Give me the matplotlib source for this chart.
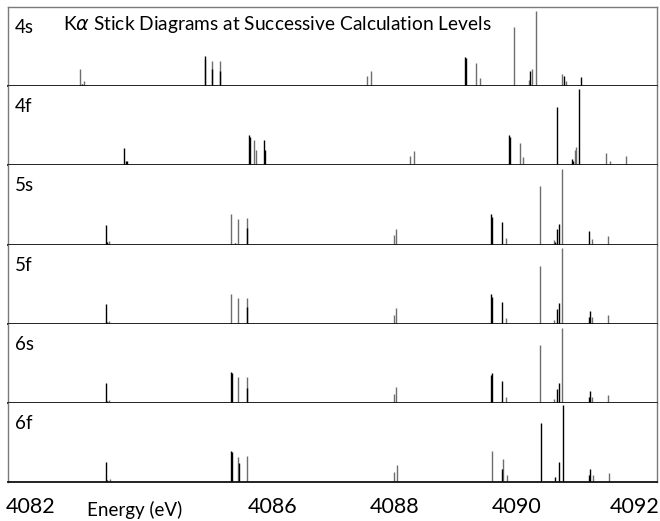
import matplotlib
matplotlib.use("Agg")
import matplotlib.pyplot as plt
from matplotlib.transforms import ScaledTranslation

plt.rcParams['font.family'] = ['Lato', 'DejaVu Sans']

# ---- data (energies in eV, intensities in arbitrary units) ----
levels = ["4s", "4f", "5s", "5f", "6s", "6f"]

E_4s = [4082.842, 4082.870, 4082.913, 4084.888, 4084.901, 4084.954, 4085.008, 4085.016, 4085.134, 4085.144,
        4087.556, 4087.611, 4089.164, 4089.175, 4089.334, 4089.400, 4089.968, 4090.204, 4090.230, 4090.250,
        4090.327, 4090.758, 4090.775, 4090.816, 4091.070]
I_4s = [17, 2, 5, 30, 27, 1, 25, 17, 25, 15, 10, 15, 29, 28, 23, 8, 59, 6, 15, 17, 75, 12, 10, 5, 9]
K_4s = ['g', 'k', 'g', 'k', 'g', 'k', 'g', 'k', 'g', 'k', 'g', 'g', 'k', 'k', 'g', 'g', 'g', 'g', 'k', 'g',
        'g', 'g', 'k', 'g', 'k']

E_4f = [4083.559, 4083.602, 4083.618, 4085.615, 4085.626, 4085.669, 4085.697, 4085.730, 4085.861, 4085.877,
        4088.256, 4088.322, 4089.881, 4089.892, 4090.061, 4090.105, 4090.676, 4090.909, 4090.931, 4090.959,
        4090.980, 4091.037, 4091.477, 4091.543, 4091.795]
I_4f = [17.7, 4.7, 4, 30, 28, 1, 25, 15, 25, 15, 9, 14.3, 30, 28, 22.3, 8, 58, 6, 4, 15, 18.3, 75.7, 12.3, 4.7, 9]
K_4f = ['k', 'k', 'k', 'k', 'k', 'k', 'g', 'g', 'k', 'k', 'g', 'g', 'k', 'k', 'g', 'g', 'k', 'k', 'k', 'g',
        'g', 'k', 'g', 'g', 'g']

E_5s = [4083.273, 4083.290, 4083.310, 4085.324, 4085.390, 4085.439, 4085.577, 4085.587, 4087.994, 4088.022,
        4089.590, 4089.607, 4089.771, 4089.826, 4090.386, 4090.624, 4090.643, 4090.673, 4090.693, 4090.755,
        4091.198, 4091.246, 4091.510]
I_5s = [19.3, 2, 3, 30, 1, 25.7, 26, 16, 9, 15.3, 30, 27, 22.3, 6, 58, 4, 2.5, 15.3, 20.7, 75, 13, 5.7, 8.7]
K_5s = ['k', 'k', 'g', 'g', 'k', 'g', 'g', 'k', 'g', 'g', 'k', 'k', 'k', 'g', 'g', 'g', 'k', 'k', 'k', 'g',
        'k', 'g', 'g']

E_5f = [4083.273, 4083.290, 4083.310, 4085.324, 4085.390, 4085.439, 4085.577, 4085.587, 4087.994, 4088.022,
        4089.590, 4089.607, 4089.771, 4089.826, 4090.386, 4090.624, 4090.673, 4090.693, 4090.755, 4091.198,
        4091.214, 4091.246, 4091.510]
I_5f = [19.3, 2, 3, 30, 1, 25.3, 26, 16.3, 9, 15.3, 29.7, 27, 22, 5.7, 57.7, 3.7, 14.3, 20.3, 75.3, 6.7,
        12.3, 6.7, 9]
K_5f = ['k', 'k', 'g', 'g', 'k', 'g', 'g', 'k', 'g', 'g', 'k', 'k', 'k', 'g', 'g', 'g', 'k', 'k', 'g', 'k',
        'k', 'g', 'g']

E_6s = [4083.273, 4083.290, 4083.310, 4085.324, 4085.341, 4085.439, 4085.577, 4085.587, 4087.994, 4088.022,
        4089.590, 4089.607, 4089.771, 4089.826, 4090.386, 4090.624, 4090.673, 4090.693, 4090.755, 4091.198,
        4091.214, 4091.246, 4091.510]
I_6s = [19.3, 2, 3, 31, 29.3, 25.3, 25.3, 15.3, 8.7, 15.7, 27.7, 30, 22, 6, 58, 3.7, 14.3, 20, 74.7, 6,
        12.3, 6, 8]
K_6s = ['k', 'k', 'g', 'k', 'k', 'g', 'g', 'k', 'g', 'g', 'k', 'k', 'k', 'g', 'g', 'g', 'k', 'k', 'g', 'k',
        'k', 'g', 'g']

E_6f = [4083.273, 4083.290, 4083.339, 4085.324, 4085.341, 4085.439, 4085.456, 4085.587, 4087.994, 4088.038,
        4089.607, 4089.771, 4089.777, 4089.843, 4090.406, 4090.643, 4090.693, 4090.771, 4091.198, 4091.214,
        4091.259, 4091.526]
I_6f = [20, 2, 2.5, 30.7, 30, 25.3, 18.5, 26, 10.3, 16.7, 31, 12.7, 23, 6.5, 58.7, 4.7, 20, 76.5, 7.3, 13.3,
        7, 8.7]
K_6f = ['k', 'k', 'g', 'k', 'k', 'g', 'k', 'g', 'g', 'g', 'g', 'k', 'g', 'g', 'k', 'k', 'k', 'k', 'k', 'k',
        'g', 'g']

energies = [E_4s, E_4f, E_5s, E_5f, E_6s, E_6f]
intensities = [I_4s, I_4f, I_5s, I_5f, I_6s, I_6f]
kinds = [K_4s, K_4f, K_5s, K_5f, K_6s, K_6f]

tick_values = [4082, 4086, 4088, 4090, 4092]
tick_labels = ["4082", "4086", "4088", "4090", "4092"]
title = "K$\\alpha$ Stick Diagrams at Successive Calculation Levels"
xlabel = "Energy (eV)"

# ---- figure ----
colors = {'k': '#000000', 'g': '#6e6e6e'}
fig = plt.figure(figsize=(6.6, 5.21), dpi=100)
gs = fig.add_gridspec(len(levels), 1, left=8 / 660, right=657 / 660,
                      top=1 - 7 / 521, bottom=1 - 482 / 521, hspace=0)
axes = []
for i, lev in enumerate(levels):
    ax = fig.add_subplot(gs[i, 0])
    axes.append(ax)
    for kind in ['g', 'k']:
        xs = [e for e, k in zip(energies[i], kinds[i]) if k == kind]
        hs = [h for h, k in zip(intensities[i], kinds[i]) if k == kind]
        ax.vlines(xs, 0, hs, colors=colors[kind], linewidth=1.0)
    ax.set_xlim(4081.661, 4092.309)
    ax.set_ylim(0, 79)
    ax.set_yticks([])
    ax.set_xticks(tick_values)
    ax.tick_params(axis='x', length=0)
    if i < len(levels) - 1:
        ax.set_xticklabels([])
    else:
        ax.set_xticklabels(tick_labels, fontsize=15.5)
        ax.tick_params(axis='x', pad=11)
    for s in ['left', 'right', 'top']:
        ax.spines[s].set_color('#7a7a7a')
        ax.spines[s].set_linewidth(1.0)
    ax.spines['bottom'].set_color('#111111')
    ax.spines['bottom'].set_linewidth(1.3)
    if i > 0:
        ax.spines['top'].set_visible(False)
    ax.text(0.011, 0.67, lev, transform=ax.transAxes, fontsize=13.5,
            ha='left', va='baseline')

# nudge the two edge tick labels so they stay inside the figure
bottom_ax = axes[-1]
ticks = bottom_ax.xaxis.get_major_ticks()
ticks[0].label1.set_transform(ticks[0].label1.get_transform() +
                              ScaledTranslation(2 / 100, 0, fig.dpi_scale_trans))
ticks[-1].label1.set_transform(ticks[-1].label1.get_transform() +
                               ScaledTranslation(-4 / 100, 0, fig.dpi_scale_trans))

axes[0].text(0.085, 0.71, title, transform=axes[0].transAxes, fontsize=13.8,
             ha='left', va='baseline')
fig.text(87 / 660, 1 - 516 / 521, xlabel, fontsize=13.5, ha='left', va='baseline')

fig.savefig("out.png", dpi=100)
